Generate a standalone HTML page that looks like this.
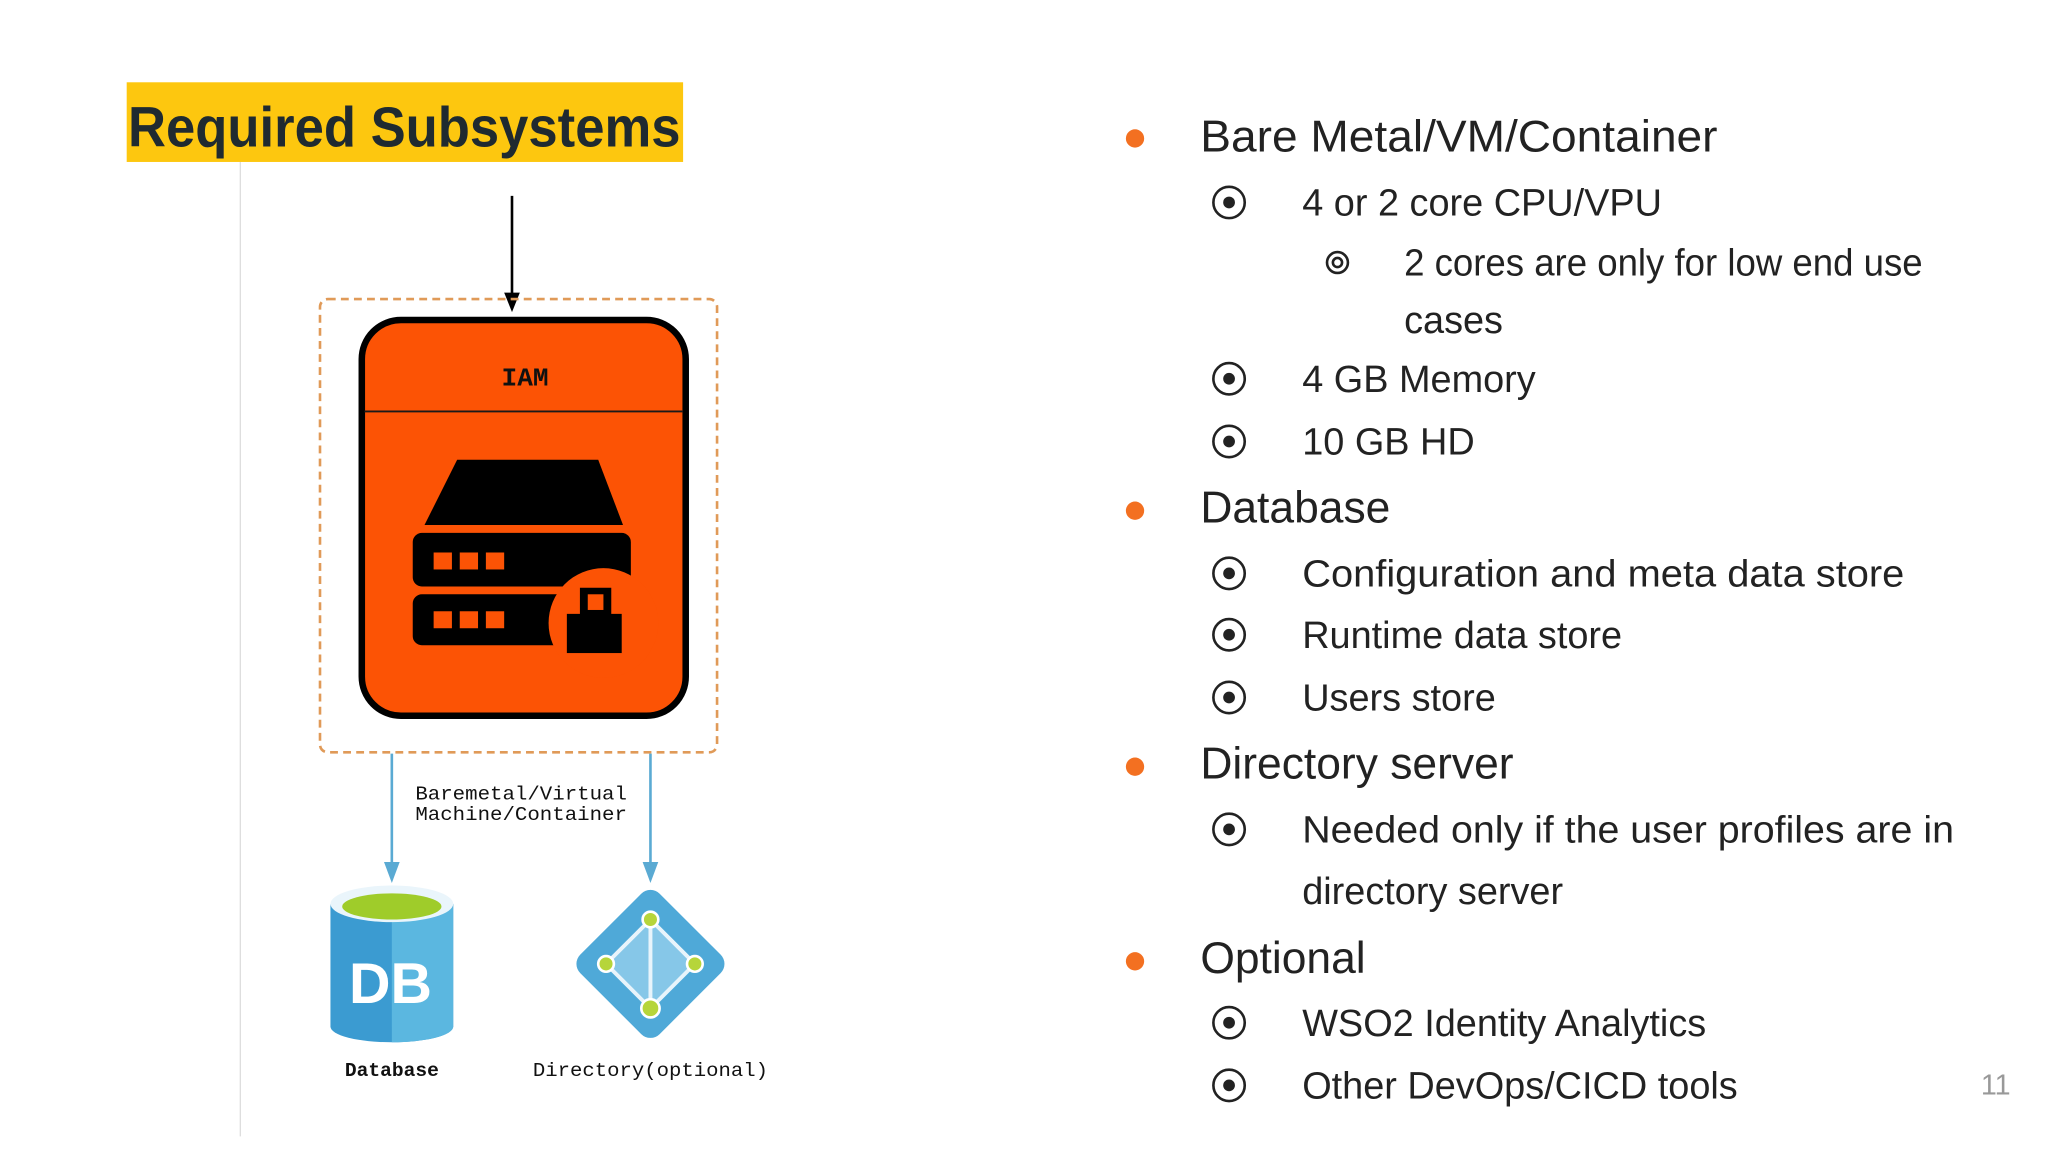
<!DOCTYPE html>
<html><head><meta charset="utf-8"><style>
html,body{margin:0;padding:0;background:#fff;width:2048px;height:1152px;overflow:hidden}
svg{display:block}
</style></head><body>
<svg width="2048" height="1152" viewBox="0 0 1568 882" xmlns="http://www.w3.org/2000/svg">
<rect width="1568" height="882" fill="#fff"/>
<rect x="97" y="63" width="426" height="61" fill="#fdc70f"/>
<text x="98" y="112" font-family="Liberation Sans, sans-serif" font-weight="bold" font-size="43" fill="#1f2a30" textLength="423" lengthAdjust="spacingAndGlyphs">Required Subsystems</text>
<line x1="184" y1="124" x2="184" y2="870" stroke="#ddd" stroke-width="1"/>
<line x1="392" y1="150" x2="392" y2="228" stroke="#000" stroke-width="2"/>
<polygon points="386,224 398,224 392,239" fill="#000"/>
<rect x="245" y="229" width="304" height="347" rx="6" fill="none" stroke="#e09a58" stroke-width="2" stroke-dasharray="6,4"/>
<rect x="277" y="245" width="248" height="303" rx="30" fill="#fc5305" stroke="#000" stroke-width="5"/>
<line x1="279" y1="315" x2="523" y2="315" stroke="#1a1a1a" stroke-width="1.5"/>
<text x="402" y="295" text-anchor="middle" font-family="Liberation Mono, monospace" font-weight="bold" font-size="20" fill="#111">IAM</text>
<polygon points="350,352 458,352 477,402 325,402" fill="#000"/>
<rect x="316" y="408" width="167" height="41" rx="7" fill="#000"/>
<rect x="316" y="455" width="120" height="39" rx="7" fill="#000"/>
<circle cx="462" cy="477" r="42" fill="#fc5305"/>
<g fill="#fc5305">
<rect x="332" y="423" width="14" height="13"/><rect x="352" y="423" width="14" height="13"/><rect x="372" y="423" width="14" height="13"/>
<rect x="332" y="468" width="14" height="13"/><rect x="352" y="468" width="14" height="13"/><rect x="372" y="468" width="14" height="13"/>
</g>
<rect x="434" y="470" width="42" height="30" fill="#000"/>
<rect x="444" y="450" width="24" height="22" fill="#000"/>
<rect x="450" y="455" width="12" height="12" fill="#fc5305"/>
<line x1="300" y1="577" x2="300" y2="664" stroke="#5aaad3" stroke-width="2"/>
<polygon points="294,660 306,660 300,676" fill="#5aaad3"/>
<line x1="498" y1="577" x2="498" y2="664" stroke="#5aaad3" stroke-width="2"/>
<polygon points="492,660 504,660 498,676" fill="#5aaad3"/>
<text font-family="Liberation Mono, monospace" font-size="15" fill="#111"><tspan x="318" y="612" textLength="162" lengthAdjust="spacingAndGlyphs">Baremetal/Virtual</tspan><tspan x="318" y="628" textLength="162" lengthAdjust="spacingAndGlyphs">Machine/Container</tspan></text>
<path d="M253,692 L253,786 A47,12 0 0 0 347,786 L347,692 Z" fill="#3b9bd1"/>
<path d="M300,700 L347,692 L347,786 A47,12 0 0 1 300,798 Z" fill="#5bb7e0"/>
<ellipse cx="300" cy="692" rx="47" ry="14" fill="#eaf5fb"/>
<ellipse cx="300" cy="694" rx="38" ry="10" fill="#9fcc2a"/>
<text x="299" y="768" text-anchor="middle" font-family="Liberation Sans, sans-serif" font-weight="bold" font-size="44" fill="#fff">DB</text>
<rect x="455" y="695" width="86" height="86" rx="10" transform="rotate(45 498 738)" fill="#4fa9d8"/>
<polygon points="498,704 532,738 498,772 464,738" fill="#86c7e8"/>
<g stroke="#e8f4fb" stroke-width="3" fill="none"><line x1="498" y1="704" x2="498" y2="772"/><polyline points="498,704 464,738 498,772 532,738 498,704"/></g>
<g fill="#b6d53a" stroke="#fff" stroke-width="2"><circle cx="498" cy="704" r="6"/><circle cx="464" cy="738" r="6"/><circle cx="532" cy="738" r="6"/><circle cx="498" cy="772" r="7"/></g>
<text font-family="Liberation Mono, monospace" font-size="15" fill="#111" text-anchor="middle" font-weight="bold"><tspan x="300" y="824">Database</tspan></text>
<text font-family="Liberation Mono, monospace" font-size="15" fill="#111" x="408" y="824" textLength="180" lengthAdjust="spacingAndGlyphs">Directory(optional)</text>
<g font-family="Liberation Sans, sans-serif" fill="#222">
<g fill="#f37021"><circle cx="869" cy="106" r="7"/><circle cx="869" cy="391" r="7"/><circle cx="869" cy="587" r="7"/><circle cx="869" cy="736" r="7"/></g>
<g font-size="34">
<text x="919" y="116" textLength="396" lengthAdjust="spacingAndGlyphs">Bare Metal/VM/Container</text>
<text x="919" y="400">Database</text>
<text x="919" y="596">Directory server</text>
<text x="919" y="745">Optional</text>
</g>
<g font-size="29">
<text x="997" y="165">4 or 2 core CPU/VPU</text>
<text x="1075" y="211" textLength="397" lengthAdjust="spacingAndGlyphs">2 cores are only for low end use</text>
<text x="1075" y="255">cases</text>
<text x="997" y="300">4 GB Memory</text>
<text x="997" y="348">10 GB HD</text>
<text x="997" y="449" textLength="461" lengthAdjust="spacingAndGlyphs">Configuration and meta data store</text>
<text x="997" y="496">Runtime data store</text>
<text x="997" y="544">Users store</text>
<text x="997" y="645" textLength="499" lengthAdjust="spacingAndGlyphs">Needed only if the user profiles are in</text>
<text x="997" y="692">directory server</text>
<text x="997" y="793">WSO2 Identity Analytics</text>
<text x="997" y="841">Other DevOps/CICD tools</text>
</g>
<g fill="none" stroke="#222" stroke-width="2">
<circle cx="941" cy="155" r="12"/><circle cx="941" cy="290" r="12"/><circle cx="941" cy="338" r="12"/>
<circle cx="941" cy="439" r="12"/><circle cx="941" cy="486" r="12"/><circle cx="941" cy="534" r="12"/>
<circle cx="941" cy="635" r="12"/><circle cx="941" cy="783" r="12"/><circle cx="941" cy="831" r="12"/>
<circle cx="1024" cy="201" r="8"/><circle cx="1024" cy="201" r="3.5"/>
</g>
<g fill="#222">
<circle cx="941" cy="155" r="4.5"/><circle cx="941" cy="290" r="4.5"/><circle cx="941" cy="338" r="4.5"/>
<circle cx="941" cy="439" r="4.5"/><circle cx="941" cy="486" r="4.5"/><circle cx="941" cy="534" r="4.5"/>
<circle cx="941" cy="635" r="4.5"/><circle cx="941" cy="783" r="4.5"/><circle cx="941" cy="831" r="4.5"/>
</g>
<text x="1528" y="838" text-anchor="middle" font-size="22" fill="#999">11</text>
</g>
</svg>
</body></html>
